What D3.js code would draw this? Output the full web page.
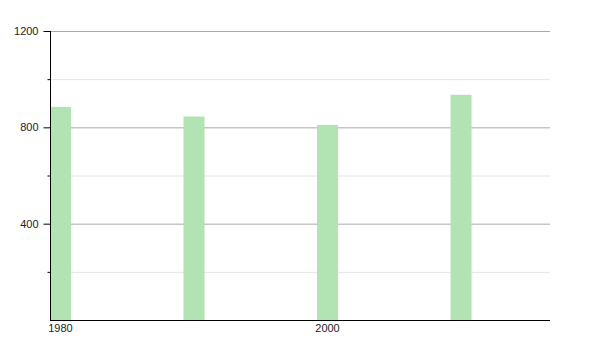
<!DOCTYPE html>
<html>
<head>
<meta charset="utf-8">
<script src="https://cdn.jsdelivr.net/npm/d3@7"></script>
<style>
  body { margin: 0; background: #fff; }
  text { font-family: "Liberation Sans", Arial, sans-serif; font-size: 11px; fill: #222; }
</style>
</head>
<body>
<div class="chart"></div>
<script>
var years = [1980, 1990, 2000, 2010];
var values = [885, 845, 810, 935];
var yMajor = [400, 800, 1200];
var yMinor = [200, 600, 1000];
var xLabels = [1980, 2000];

function init() {
  var width = 600,
      height = 350,
      left = 50,
      right = 550,
      top = 31,
      bottom = 320,
      barWidth = 21;

  var svg = d3.select('.chart')
    .append('svg')
      .attr('width', width)
      .attr('height', height);

  var x = d3.scaleLinear().domain([1980, 2017.45]).range([left, right]);
  var y = d3.scaleLinear().domain([0, 1200]).range([bottom, top]);

  // grid
  svg.selectAll('line.minor').data(yMinor).enter()
    .append('line')
      .attr('x1', left).attr('x2', right)
      .attr('y1', function(d) { return y(d) + 0.5; })
      .attr('y2', function(d) { return y(d) + 0.5; })
      .attr('stroke', '#e4e4e4');

  svg.selectAll('line.major').data(yMajor).enter()
    .append('line')
      .attr('x1', left).attr('x2', right)
      .attr('y1', function(d) { return y(d) + 0.5; })
      .attr('y2', function(d) { return y(d) + 0.5; })
      .attr('stroke', '#aaaaaa');

  // bars
  svg.selectAll('rect.bar').data(values).enter()
    .append('rect')
      .attr('class', 'bar')
      .attr('x', function(d, i) { return x(years[i]); })
      .attr('y', function(d) { return y(d); })
      .attr('width', barWidth)
      .attr('height', function(d) { return bottom - y(d); })
      .attr('fill', '#b2e3b2');

  // y axis
  var yAxis = d3.axisLeft(y).tickValues(yMajor).tickSize(7).tickPadding(5).tickFormat(d3.format('d'));
  var gy = svg.append('g').attr('transform', 'translate(' + (left + 0.5) + ',0)').call(yAxis);
  gy.select('.domain').attr('stroke', '#000').attr('d', 'M0,' + top + 'V' + bottom);
  gy.selectAll('.tick line').attr('stroke', '#000');
  gy.selectAll('text').style('font-family', '"Liberation Sans", Arial, sans-serif').style('font-size', '11px').attr('fill', '#222');

  var yAxisMinor = d3.axisLeft(y).tickValues(yMinor).tickSize(3).tickFormat('');
  var gym = svg.append('g').attr('transform', 'translate(' + (left + 0.5) + ',0)').call(yAxisMinor);
  gym.select('.domain').remove();
  gym.selectAll('.tick line').attr('stroke', '#000');

  // x axis
  svg.append('line')
    .attr('x1', left).attr('x2', right)
    .attr('y1', bottom + 0.5).attr('y2', bottom + 0.5)
    .attr('stroke', '#000');

  svg.selectAll('text.xlab').data(xLabels).enter()
    .append('text')
      .attr('class', 'xlab')
      .attr('x', function(d) { return x(d) + barWidth / 2; })
      .attr('y', bottom + 12)
      .attr('text-anchor', 'middle')
      .text(function(d) { return d; });
}

d3.select(window).on('load', init);
</script>
</body>
</html>
